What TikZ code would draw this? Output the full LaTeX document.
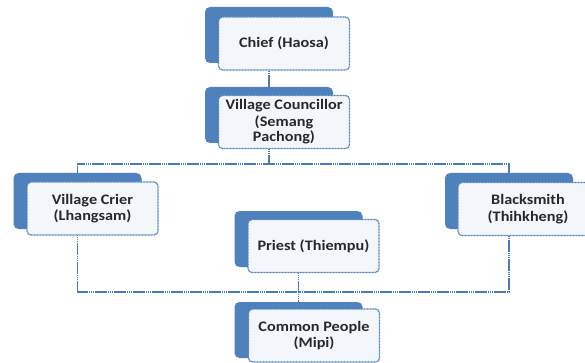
\documentclass[tikz,border=0pt]{standalone}
\usepackage{fontspec}
\setmainfont{Carlito}[FakeStretch=1.12]
\usetikzlibrary{backgrounds}

\definecolor{boxblue}{RGB}{79,129,189}
\definecolor{boxfill}{RGB}{243,247,252}
\definecolor{linkblue}{RGB}{70,122,186}
\definecolor{inkgray}{RGB}{40,40,40}

\tikzset{
  back/.style={rectangle, rounded corners=5pt, fill=boxblue, inner sep=0pt,
    minimum width=128pt, minimum height=56pt},
  front/.style={rectangle, rounded corners=4pt, fill=boxfill, draw=boxblue,
    line width=1.2pt, dash pattern=on 1pt off 0.5pt, inner sep=2pt,
    minimum width=131pt, minimum height=53pt, align=center, text=inkgray,
    font=\fontsize{14.5}{16.5}\selectfont\bfseries},
  link/.style={draw=linkblue, line width=1.8pt, dash pattern=on 1.5pt off 0.4pt}
}

\begin{document}
\begin{tikzpicture}[x=1pt,y=-1pt]
  \useasboundingbox (0,0) rectangle (585,363);

  \begin{scope}[every node/.style={back}]
    \node (chiefb)   at (269,35)    {};
    \node (councilb) at (269,115)   {};
    \node (crierb)   at (77.5,201)  {};
    \node (priestb)  at (298.5,239) {};
    \node (commonb)  at (298.5,330) {};
    \node (smithb)   at (509,201)   {};
  \end{scope}

  \begin{scope}[every node/.style={front}]
    \node (chief)   at (284,43.5)  {Chief (Haosa)};
    \node (council) at (284,122)   {Village Councillor\\(Semang\\[-1pt]Pachong)};
    \node (crier)   at (92.5,208.5) {Village Crier\\(Lhangsam)};
    \node (priest)  at (313.5,246) {Priest (Thiempu)};
    \node (common)  at (314,335.5) {Common People\\(Mipi)};
    \node[minimum width=140pt] (smith) at (528,209) {Blacksmith\\(Thihkheng)};
  \end{scope}

  \coordinate (topbus) at (269,164);
  \coordinate (lowbus) at (298.5,292);

  \begin{pgfonlayer}{background}
    \path[link] (chiefb) -- (councilb);
    \path[link] (councilb) -- (topbus);
    \path[link] (crierb) |- (topbus) -| (smithb);
    \path[link] (crierb) |- (lowbus) -| (smithb);
    \path[link] (priestb) -- (commonb);
  \end{pgfonlayer}

\end{tikzpicture}
\end{document}
